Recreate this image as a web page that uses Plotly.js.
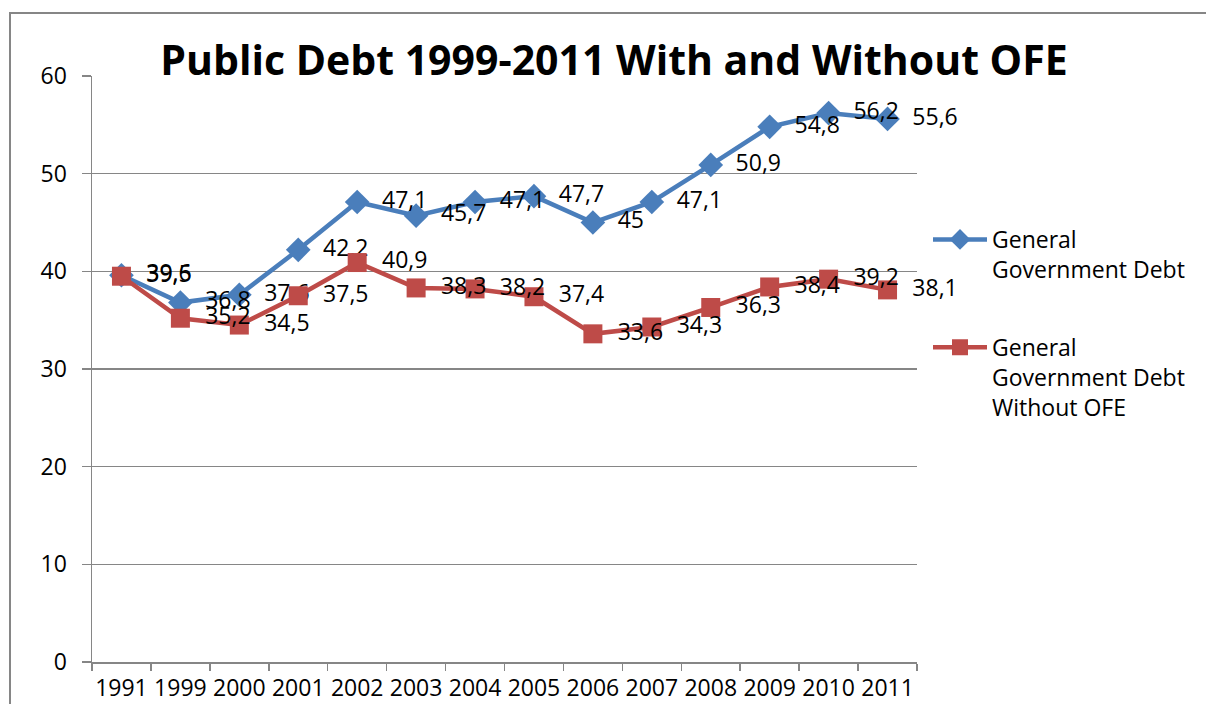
<!DOCTYPE html>
<html>
<head>
<meta charset="utf-8">
<script src="https://cdn.plot.ly/plotly-3.0.1.min.js"></script>
<style>
html,body{margin:0;padding:0;background:#fff;}
#chart{width:1206px;height:704px;}
</style>
</head>
<body>
<div id="chart"></div>
<script>
const years = ['1991','1999','2000','2001','2002','2003','2004','2005','2006','2007','2008','2009','2010','2011'];
const debtWith = [39.6, 36.8, 37.6, 42.2, 47.1, 45.7, 47.1, 47.7, 45, 47.1, 50.9, 54.8, 56.2, 55.6];
const debtWithout = [39.5, 35.2, 34.5, 37.5, 40.9, 38.3, 38.2, 37.4, 33.6, 34.3, 36.3, 38.4, 39.2, 38.1];
const seriesNames = ['General<br>Government Debt', 'General<br>Government Debt<br>Without OFE'];

const fmt = v => '\u00a0\u00a0' + String(v).replace('.', ',');
const FONT = 'Open Sans, Noto Sans, DejaVu Sans, sans-serif';
const GRID = '#868686';

const traces = [
  {
    x: years, y: debtWith, name: seriesNames[0], legendgroup: 'g1', type: 'scatter', mode: 'lines+markers+text',
    line: {color: '#4A7EBB', width: 4.5},
    marker: {symbol: 'diamond', size: 19, color: '#4A7EBB'},
    text: debtWith.map(fmt), textposition: 'middle right',
    textfont: {family: FONT, size: 23, color: '#000'},
    cliponaxis: false, hoverinfo: 'x+y'
  },
  {
    x: years, y: debtWithout, name: seriesNames[1], legendgroup: 'g2', type: 'scatter', mode: 'lines+markers+text',
    line: {color: '#BE4B48', width: 4.5},
    marker: {symbol: 'square', size: 19, color: '#BE4B48'},
    text: debtWithout.map(fmt), textposition: 'middle right',
    textfont: {family: FONT, size: 23, color: '#000'},
    cliponaxis: false, hoverinfo: 'x+y'
  }
];

const L = 92, R = 917, T = 76, B = 662, W = 1206, H = 704;
const pw = R - L, ph = B - T;

const layout = {
  width: W, height: H,
  margin: {l: L, r: W - R, t: T, b: H - B, pad: 0},
  paper_bgcolor: '#fff', plot_bgcolor: '#fff',
  font: {family: FONT, size: 23, color: '#000'},
  title: {
    text: '<b>Public Debt 1999-2011 With and Without OFE</b>',
    font: {family: FONT, size: 41, color: '#000'},
    x: 614 / W, xanchor: 'center', xref: 'container',
    y: 1 - 61 / H, yanchor: 'middle', yref: 'container'
  },
  xaxis: {
    type: 'category', range: [-0.5, 13.5], fixedrange: true,
    showgrid: false, showline: true, linecolor: GRID, linewidth: 1.5,
    ticks: 'outside', tickson: 'boundaries', ticklen: 7, tickcolor: GRID, tickwidth: 1.5,
    tickangle: 0, ticklabelstandoff: 5,
    tickfont: {family: FONT, size: 23, color: '#000'}, zeroline: false
  },
  yaxis: {
    range: [0, 60], dtick: 10, fixedrange: true,
    showgrid: true, gridcolor: GRID, gridwidth: 1.5,
    showline: true, linecolor: GRID, linewidth: 1.5,
    ticks: 'outside', ticklen: 9, tickcolor: GRID, tickwidth: 1.5,
    ticklabelstandoff: 10,
    tickfont: {family: FONT, size: 23, color: '#000'}, zeroline: false
  },
  legend: {
    x: (928 - L) / pw, xanchor: 'left',
    y: (B - 218) / ph, yanchor: 'top',
    font: {family: FONT, size: 23, color: '#000'},
    itemwidth: 54, valign: 'top', tracegroupgap: 45,
    bgcolor: 'rgba(0,0,0,0)', borderwidth: 0
  },
  showlegend: true,
  shapes: [{
    type: 'rect', xref: 'paper', yref: 'paper',
    x0: (10 - L) / pw, x1: (1300 - L) / pw,
    y0: (B - 800) / ph, y1: (B - 13) / ph,
    line: {color: GRID, width: 2}, fillcolor: 'rgba(0,0,0,0)', layer: 'above'
  }]
};

Plotly.newPlot('chart', traces, layout, {displayModeBar: false, staticPlot: true});
</script>
</body>
</html>
